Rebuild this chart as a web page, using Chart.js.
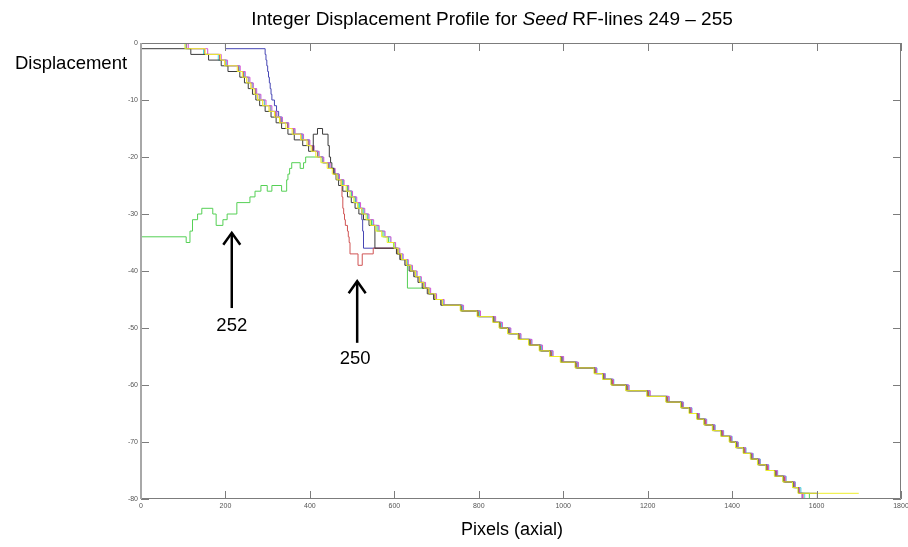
<!DOCTYPE html>
<html><head><meta charset="utf-8">
<script src="https://cdn.jsdelivr.net/npm/chart.js@4.4.1/dist/chart.umd.min.js"></script>
<style>html,body{margin:0;padding:0;background:#fff;}#wrap{width:908px;height:547px;}</style>
</head><body><div id="wrap"><canvas id="c" width="908" height="547"></canvas></div>
<script>
// ---- data ----
const xTicks = [0,200,400,600,800,1000,1200,1400,1600,1800];
const yTicks = [0,-10,-20,-30,-40,-50,-60,-70,-80];
const levels = [0,-1,-2,-3,-4,-5,-6,-7,-8,-9,-10,-11,-12,-13,-14,-15,-16,-17,-18,-19,-20,-21,-22,-23,-24,-25,-26,-27,-28,-29,-30,-31,-32,-33,-34,-35,-36,-37,-38,-39,-40,-41,-42,-43,-44,-45,-46,-47,-48,-49,-50,-51,-52,-53,-54,-55,-56,-57,-58,-59,-60,-61,-62,-63,-64,-65,-66,-67,-68,-69,-70,-71,-72,-73,-74,-75,-76,-77,-78,-79,-80];

const blueX = [0,200,294,296,298,300,302,304,306,308,310,316,321,326,333,348,363,383,398,408,419,431,446,458,469,479,490,499,508,518,523,525,527,609,617,629,639,650,660,670,682,697,715,761,801,838,853,873,898,923,948,973,998,1033,1078,1098,1118,1153,1203,1248,1283,1303,1321,1338,1358,1378,1398,1413,1431,1448,1465,1485,1505,1525,1548,1560,1566];
const blueY = [0,-1,-2,-3,-4,-5,-6,-7,-8,-9,-10,-11,-12,-13,-14,-15,-16,-17,-18,-19,-20,-21,-22,-23,-24,-25,-26,-27,-28,-29,-31,-33,-36,-37,-38,-39,-40,-41,-42,-43,-44,-45,-46,-47,-48,-49,-50,-51,-52,-53,-54,-55,-56,-57,-58,-59,-60,-61,-62,-63,-64,-65,-66,-67,-68,-69,-70,-71,-72,-73,-74,-75,-76,-77,-78,-79,-80];

const greenX = [0,107,116,122,134,144,170,178,194,204,227,258,270,284,299,310,333,345,348,352,357,377,385,390,429,444,456,467,477,489,498,507,516,526,536,546,559,573,586,598,608,616,631,681,696,713,759,799,836,851,871,896,921,946,971,996,1031,1076,1096,1116,1151,1201,1246,1281,1301,1319,1336,1356,1376,1396,1411,1429,1446,1463,1483,1503,1523,1546,1559,1583];
const greenY = [-34,-35,-33,-31,-30,-29,-30,-32,-31,-30,-28,-27,-26,-25,-26,-25,-26,-24,-23,-22,-21,-22,-21,-20,-21,-22,-23,-24,-25,-26,-27,-28,-29,-30,-31,-32,-33,-34,-35,-36,-37,-38,-43,-44,-45,-46,-47,-48,-49,-50,-51,-52,-53,-54,-55,-56,-57,-58,-59,-60,-61,-62,-63,-64,-65,-66,-67,-68,-69,-70,-71,-72,-73,-74,-75,-76,-77,-78,-79,-80];

const redX = [0,108,150,186,201,231,243,254,263,271,280,292,306,319,331,347,361,381,396,406,418,430,444,456,467,474,476,478,480,482,484,489,491,493,495,514,524,550,607,615,628,638,649,659,669,681,696,713,760,800,836,852,872,897,922,947,972,997,1032,1077,1097,1117,1152,1202,1247,1282,1302,1320,1337,1357,1377,1397,1412,1430,1447,1464,1484,1504,1524,1547,1559,1568];
const redY = [0,-1,-2,-3,-4,-5,-6,-7,-8,-9,-10,-11,-12,-13,-14,-15,-16,-17,-18,-19,-20,-21,-22,-23,-24,-25,-27,-29,-30,-31,-32,-33,-34,-35,-37,-39,-37,-36,-37,-38,-39,-40,-41,-42,-43,-44,-45,-46,-47,-48,-49,-50,-51,-52,-53,-54,-55,-56,-57,-58,-59,-60,-61,-62,-63,-64,-65,-66,-67,-68,-69,-70,-71,-72,-73,-74,-75,-76,-77,-78,-79,-80];

const cyanX = [0,106,148,183,203,233,245,256,265,273,282,293,308,321,334,349,363,383,399,409,420,431,446,458,469,479,491,500,509,518,528,538,549,562,576,590,601,611,619,631,641,652,662,672,684,699,716,762,802,839,854,875,899,925,949,975,1000,1035,1080,1100,1120,1155,1205,1250,1285,1305,1323,1340,1360,1380,1400,1415,1433,1450,1467,1487,1508,1528,1550,1563,1572];
const cyanY = levels;

const magentaX = [0,112,158,190,205,235,247,258,266,274,284,296,310,322,335,350,365,385,400,410,422,433,448,460,470,481,492,501,511,520,530,540,551,564,578,592,603,613,621,633,643,654,664,674,686,700,718,764,804,840,856,876,900,926,951,976,1001,1036,1079,1099,1119,1156,1206,1251,1284,1304,1322,1339,1359,1379,1399,1414,1432,1449,1466,1486,1507,1527,1549,1560,1566];
const magentaY = levels;

const yellowX = [0,104,152,188,198,228,240,250,260,268,276,288,303,316,328,343,358,378,393,403,414,426,441,453,464,474,486,495,504,513,523,533,543,556,570,583,599,609,617,629,639,650,660,670,682,697,714,756,796,833,848,868,893,918,943,968,993,1028,1073,1093,1113,1148,1198,1243,1278,1298,1316,1333,1353,1373,1393,1408,1426,1443,1460,1480,1500,1520,1543,1556,1700];
const yellowY = [0,-1,-2,-3,-4,-5,-6,-7,-8,-9,-10,-11,-12,-13,-14,-15,-16,-17,-18,-19,-20,-21,-22,-23,-24,-25,-26,-27,-28,-29,-30,-31,-32,-33,-34,-35,-36,-37,-38,-39,-40,-41,-42,-43,-44,-45,-46,-47,-48,-49,-50,-51,-52,-53,-54,-55,-56,-57,-58,-59,-60,-61,-62,-63,-64,-65,-66,-67,-68,-69,-70,-71,-72,-73,-74,-75,-76,-77,-78,-79,-79];

const blackX = [0,118,160,190,206,234,245,254,264,272,281,294,308,320,333,348,363,383,397,408,418,430,443,446,449,452,457,462,468,478,489,498,507,516,527,540,554,605,613,625,635,646,656,666,678,693,710,757,797,834,849,869,894,919,944,969,994,1029,1074,1094,1114,1149,1199,1244,1279,1299,1317,1334,1354,1374,1394,1409,1427,1444,1461,1481,1501,1521,1544,1557,1602];
const blackY = [-1,-2,-3,-4,-5,-6,-7,-8,-9,-10,-11,-12,-13,-14,-15,-16,-17,-18,-19,-16,-15,-16,-18,-20,-21,-22,-23,-24,-25,-26,-27,-28,-29,-30,-31,-32,-36,-37,-38,-39,-40,-41,-42,-43,-44,-45,-46,-47,-48,-49,-50,-51,-52,-53,-54,-55,-56,-57,-58,-59,-60,-61,-62,-63,-64,-65,-66,-67,-68,-69,-70,-71,-72,-73,-74,-75,-76,-77,-78,-79,-80];

// annotations: arrow x, tail y, head y, label position (data units)
const arrowLabels = ['252','250'];
const arrowX = [215, 512];
const arrowTail = [-46.5, -52.6];
const arrowHead = [-33.3, -41.8];
const arrowTextX = [215, 507];
const arrowTextY = [-49.6, -55.4];

const FONT = '"Liberation Sans", Arial, sans-serif';
const pts = (xs, ys) => xs.map((v, i) => ({x: v, y: ys[i]}));
// each point (x, y) starts a new level y at x: hold previous level until x, then jump
const mk = (label, xs, ys, color) => ({label, data: pts(xs, ys), borderColor: color, borderWidth: 1,
  showLine: true, stepped: 'before', pointRadius: 0, fill: false, tension: 0});

const decor = {
  id: 'decor',
  afterDraw(chart) {
    const {ctx, chartArea: a, scales: {x, y}} = chart;
    ctx.save();
    ctx.strokeStyle = '#7c7c7c';
    ctx.lineWidth = 1;
    ctx.beginPath();
    ctx.rect(a.left + 0.5, a.top + 0.5, a.right - a.left - 1, a.bottom - a.top - 1);
    ctx.stroke();
    ctx.beginPath();
    xTicks.forEach(v => {
      const px = Math.round(x.getPixelForValue(v)) + 0.5;
      ctx.moveTo(px, a.bottom); ctx.lineTo(px, a.bottom - 8);
      ctx.moveTo(px, a.top); ctx.lineTo(px, a.top + 8);
    });
    yTicks.forEach(v => {
      const py = Math.round(y.getPixelForValue(v)) + 0.5;
      ctx.moveTo(a.left, py); ctx.lineTo(a.left + 8, py);
      ctx.moveTo(a.right, py); ctx.lineTo(a.right - 8, py);
    });
    ctx.stroke();
    ctx.strokeStyle = '#a8a8a8'; ctx.lineWidth = 2;
    ctx.beginPath(); ctx.moveTo(a.left, a.top); ctx.lineTo(a.left, a.bottom); ctx.stroke();

    // title with italic "Seed"
    ctx.fillStyle = '#000';
    ctx.textBaseline = 'middle';
    const parts = [['Integer Displacement Profile for ', 'normal'], ['Seed', 'italic'], [' RF-lines 249 \u2013 255', 'normal']];
    let total = 0;
    parts.forEach(p => { ctx.font = p[1] + ' 19px ' + FONT; total += ctx.measureText(p[0]).width; });
    let cx = 492 - total / 2;
    ctx.textAlign = 'left';
    parts.forEach(p => { ctx.font = p[1] + ' 19px ' + FONT; ctx.fillText(p[0], cx, 20); cx += ctx.measureText(p[0]).width; });

    // axis labels
    ctx.font = '18.5px ' + FONT;
    ctx.textAlign = 'left';
    ctx.fillText('Displacement', 15, 64);
    ctx.font = '18px ' + FONT;
    ctx.textAlign = 'center';
    ctx.fillText('Pixels (axial)', 512, 530);

    // arrows
    ctx.strokeStyle = '#000'; ctx.lineWidth = 2.5; ctx.lineCap = 'butt';
    arrowLabels.forEach((lab, i) => {
      const px = x.getPixelForValue(arrowX[i]);
      const pt = y.getPixelForValue(arrowTail[i]);
      const ph = y.getPixelForValue(arrowHead[i]);
      ctx.beginPath(); ctx.moveTo(px, pt); ctx.lineTo(px, ph + 1); ctx.stroke();
      ctx.beginPath(); ctx.moveTo(px - 8.5, ph + 12); ctx.lineTo(px, ph); ctx.lineTo(px + 8.5, ph + 12); ctx.stroke();
      ctx.font = '18.5px ' + FONT;
      ctx.textAlign = 'center';
      ctx.fillText(lab, x.getPixelForValue(arrowTextX[i]), y.getPixelForValue(arrowTextY[i]));
    });
    ctx.restore();
  }
};

new Chart(document.getElementById('c'), {
  type: 'scatter',
  data: { datasets: [
    mk('RF 254', yellowX, yellowY, '#eeee2a'),
    mk('RF 255', blackX, blackY, '#3a3a3a'),
    mk('RF 253', magentaX, magentaY, '#d455d4'),
    mk('RF 251', cyanX, cyanY, '#45dede'),
    mk('RF 250', redX, redY, '#d05454'),
    mk('RF 252', greenX, greenY, '#55d055'),
    mk('RF 249', blueX, blueY, '#4646b4')
  ]},
  plugins: [decor],
  options: {
    responsive: false, animation: false, devicePixelRatio: 1,
    layout: { padding: { left: 0, top: 43, right: 7, bottom: 0 } },
    plugins: { legend: { display: false }, tooltip: { enabled: false }, title: { display: false } },
    scales: {
      x: { type: 'linear', min: 0, max: 1800,
        afterFit: s => { s.height = 48; s.paddingLeft = 0; s.paddingRight = 0; },
        afterBuildTicks: s => { s.ticks = xTicks.map(v => ({value: v})); },
        grid: { display: false, drawTicks: false }, border: { display: false },
        ticks: { padding: 3, maxRotation: 0, autoSkip: false, color: '#555', font: { size: 7, family: FONT },
          callback: v => String(v) } },
      y: { type: 'linear', min: -80, max: 0,
        afterFit: s => { s.width = 141; s.paddingTop = 0; s.paddingBottom = 0; },
        afterBuildTicks: s => { s.ticks = yTicks.map(v => ({value: v})); },
        grid: { display: false, drawTicks: false }, border: { display: false },
        ticks: { padding: 3, autoSkip: false, color: '#555', font: { size: 7, family: FONT },
          callback: v => String(v) } }
    }
  }
});
</script></body></html>
